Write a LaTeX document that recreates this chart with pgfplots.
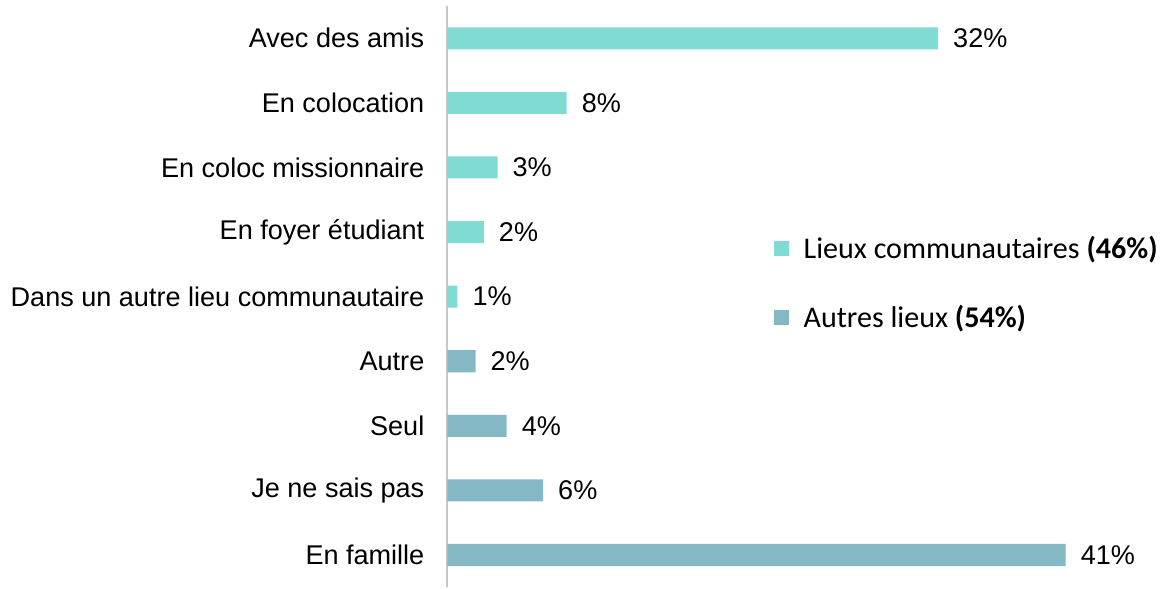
\documentclass[border=0pt]{standalone}
\usepackage{fontspec}
\setmainfont{Liberation Sans}
\newfontfamily\calibri{Carlito}
\usepackage{pgfplots}
\usepackage{pgfplotstable}
\pgfplotsset{compat=1.18}

\definecolor{comcol}{RGB}{128,219,212}
\definecolor{autcol}{RGB}{132,184,197}

% y = row (0 at top), x = bar length, lab = printed value
\pgfplotstableread{
y x lab
0 32.3 32
1 7.85 8
2 3.3 3
3 2.4 2
4 0.66 1
}\comtab
\pgfplotstableread{
y x lab
5 1.85 2
6 3.9 4
7 6.3 6
8 40.7 41
}\auttab

\begin{document}
\begin{tikzpicture}[font=\fontsize{13.5}{16}\selectfont]
\begin{axis}[
    scale only axis,
    width=358.5pt, height=290pt,
    xbar, bar width=11pt, bar shift=0pt,
    xmin=0, xmax=47.3,
    ymin=-0.5, ymax=8.5, y dir=reverse,
    axis x line=none,
    axis y line=left,
    y axis line style={-, draw=black!22, line width=1pt},
    ytick={0,...,8},
    yticklabels={Avec des amis, En colocation, En coloc missionnaire, En foyer étudiant,
        Dans un autre lieu communautaire, Autre, Seul, Je ne sais pas, En famille},
    major tick length=0pt,
    yticklabel style={font=\rmfamily\fontsize{13.5}{16}\selectfont, xshift=-8pt},
    point meta=explicit symbolic,
    nodes near coords={\pgfplotspointmeta\%},
    nodes near coords style={font=\rmfamily\fontsize{13.5}{16}\selectfont, black,
        anchor=west, xshift=4pt},
    legend style={at={(axis description cs:0.445,0.619)}, anchor=north west,
        draw=none, fill=none, font=\calibri\fontsize{15}{18}\selectfont,
        row sep=18pt, overlay},
    legend cell align=left,
    legend image code/.code={\fill[#1] (0pt,-3.75pt) rectangle (7.5pt,3.75pt);
        \path (13pt,0pt);},
]
\addplot[draw=none, fill=comcol] table[x=x, y=y, meta=lab] {\comtab};
\addlegendentry{Lieux communautaires \textbf{(46\%)}}
\addplot[draw=none, fill=autcol] table[x=x, y=y, meta=lab] {\auttab};
\addlegendentry{Autres lieux \textbf{(54\%)}}
\end{axis}
\path (current axis.north east);
\path ([xshift=-2pt]current bounding box.west);
\path ([yshift=2.5pt]current bounding box.north);
\end{tikzpicture}
\end{document}
